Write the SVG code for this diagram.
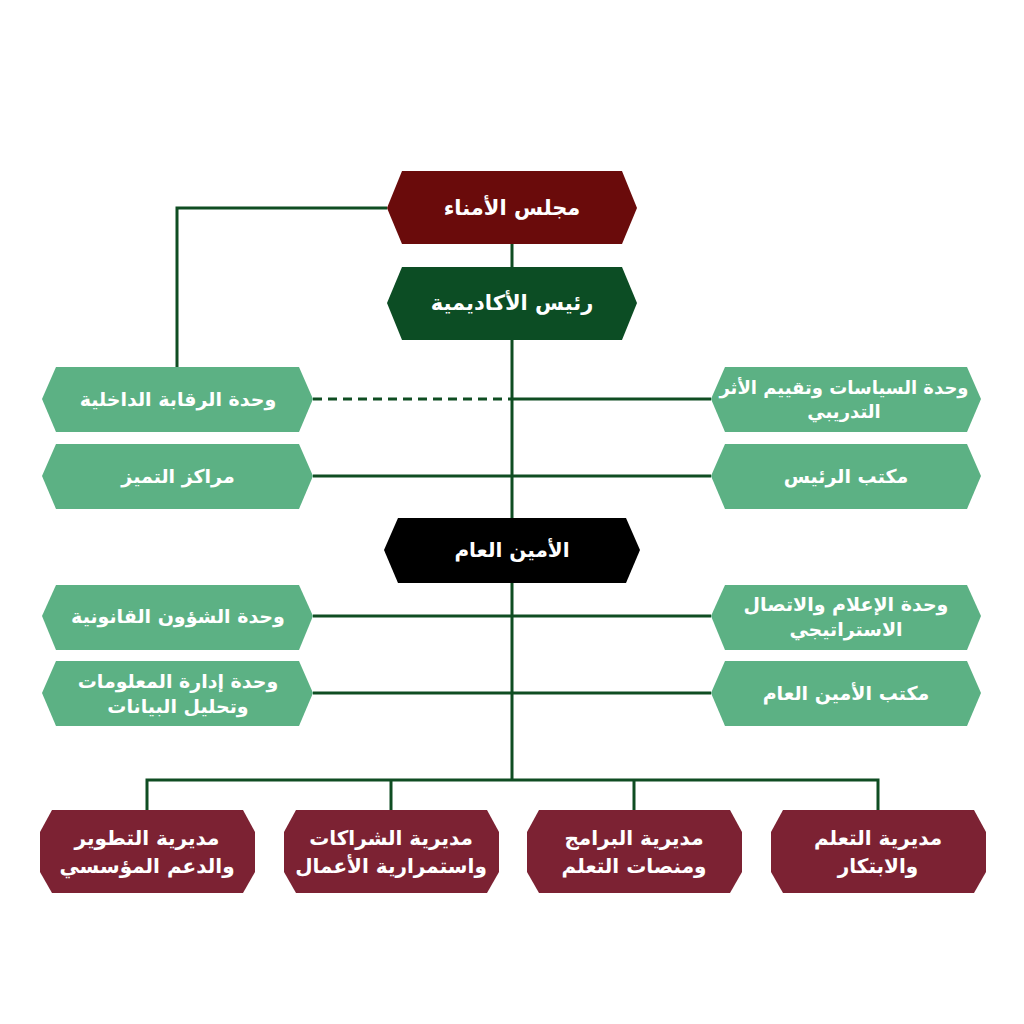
<svg xmlns="http://www.w3.org/2000/svg" width="1024" height="1024" viewBox="0 0 1024 1024">
<style>
.t{font-family:"DejaVu Sans","Noto Sans",sans-serif;font-weight:bold;fill:#ffffff;text-anchor:middle;direction:rtl;}
.s21{font-size:21px}
.s20{font-size:20px}
.s19{font-size:19px}
.s18{font-size:18px}
.ln{stroke:#0f4d22;stroke-width:3;fill:none}
.light{fill:#5cb184}
.maroon{fill:#7c2233}
</style>
<rect width="1024" height="1024" fill="#ffffff"/>
<g id="connectors">
<path class="ln" d="M387 208 H177 V368"/>
<path class="ln" d="M512 244 V780"/>
<path class="ln" d="M313 399 H512" stroke-dasharray="9 6"/>
<path class="ln" d="M512 399 H711"/>
<path class="ln" d="M313 476 H711"/>
<path class="ln" d="M313 616 H711"/>
<path class="ln" d="M313 693 H711"/>
<path class="ln" d="M147 810 V780 H878 V810"/>
<path class="ln" d="M391 780 V810"/>
<path class="ln" d="M634 780 V810"/>
</g>
<g id="board">
<polygon points="402,171 622,171 637,208 622,244 402,244 387,208" fill="#6a0b0b"/>
<text class="t s21" x="512" y="215">مجلس الأمناء</text>
</g>
<g id="president">
<polygon points="402,267 622,267 637,303 622,340 402,340 387,303" fill="#0c4d24"/>
<text class="t s21" x="512" y="310">رئيس الأكاديمية</text>
</g>
<g id="internal-audit">
<polygon class="light" points="56,367 299,367 313,399 299,432 56,432 42,399"/>
<text class="t s19" x="178" y="406">وحدة الرقابة الداخلية</text>
</g>
<g id="excellence">
<polygon class="light" points="56,444 299,444 313,476 299,509 56,509 42,476"/>
<text class="t s19" x="178" y="483">مراكز التميز</text>
</g>
<g id="policies">
<polygon class="light" points="725,367 967,367 981,399 967,432 725,432 711,399"/>
<text class="t s18" x="844" y="394">وحدة السياسات وتقييم الأثر</text>
<text class="t s18" x="844" y="418">التدريبي</text>
</g>
<g id="president-office">
<polygon class="light" points="725,444 967,444 981,476 967,509 725,509 711,476"/>
<text class="t s19" x="846" y="483">مكتب الرئيس</text>
</g>
<g id="secretary">
<polygon points="398,518 626,518 640,550 626,583 398,583 384,550" fill="#000000"/>
<text class="t s20" x="512" y="557">الأمين العام</text>
</g>
<g id="legal">
<polygon class="light" points="56,585 299,585 313,616 299,650 56,650 42,616"/>
<text class="t s19" x="178" y="623">وحدة الشؤون القانونية</text>
</g>
<g id="data">
<polygon class="light" points="56,661 299,661 313,693 299,726 56,726 42,693"/>
<text class="t s19" x="178" y="688">وحدة إدارة المعلومات</text>
<text class="t s19" x="178" y="713">وتحليل البيانات</text>
</g>
<g id="media">
<polygon class="light" points="725,585 967,585 981,616 967,650 725,650 711,616"/>
<text class="t s19" x="846" y="611">وحدة الإعلام والاتصال</text>
<text class="t s19" x="846" y="636">الاستراتيجي</text>
</g>
<g id="secretary-office">
<polygon class="light" points="725,661 967,661 981,693 967,726 725,726 711,693"/>
<text class="t s19" x="846" y="700">مكتب الأمين العام</text>
</g>
<g id="dev">
<polygon class="maroon" points="52,810 243,810 255,832 255,872 243,893 52,893 40,872 40,832"/>
<text class="t s20" x="147" y="845">مديرية التطوير</text>
<text class="t s20" x="147" y="873">والدعم المؤسسي</text>
</g>
<g id="partnerships">
<polygon class="maroon" points="296,810 487,810 499,832 499,872 487,893 296,893 284,872 284,832"/>
<text class="t s20" x="391" y="845">مديرية الشراكات</text>
<text class="t s20" x="391" y="873">واستمرارية الأعمال</text>
</g>
<g id="programs">
<polygon class="maroon" points="539,810 730,810 742,832 742,872 730,893 539,893 527,872 527,832"/>
<text class="t s20" x="634" y="845">مديرية البرامج</text>
<text class="t s20" x="634" y="873">ومنصات التعلم</text>
</g>
<g id="learning">
<polygon class="maroon" points="783,810 974,810 986,832 986,872 974,893 783,893 771,872 771,832"/>
<text class="t s20" x="878" y="845">مديرية التعلم</text>
<text class="t s20" x="878" y="873">والابتكار</text>
</g>
</svg>
